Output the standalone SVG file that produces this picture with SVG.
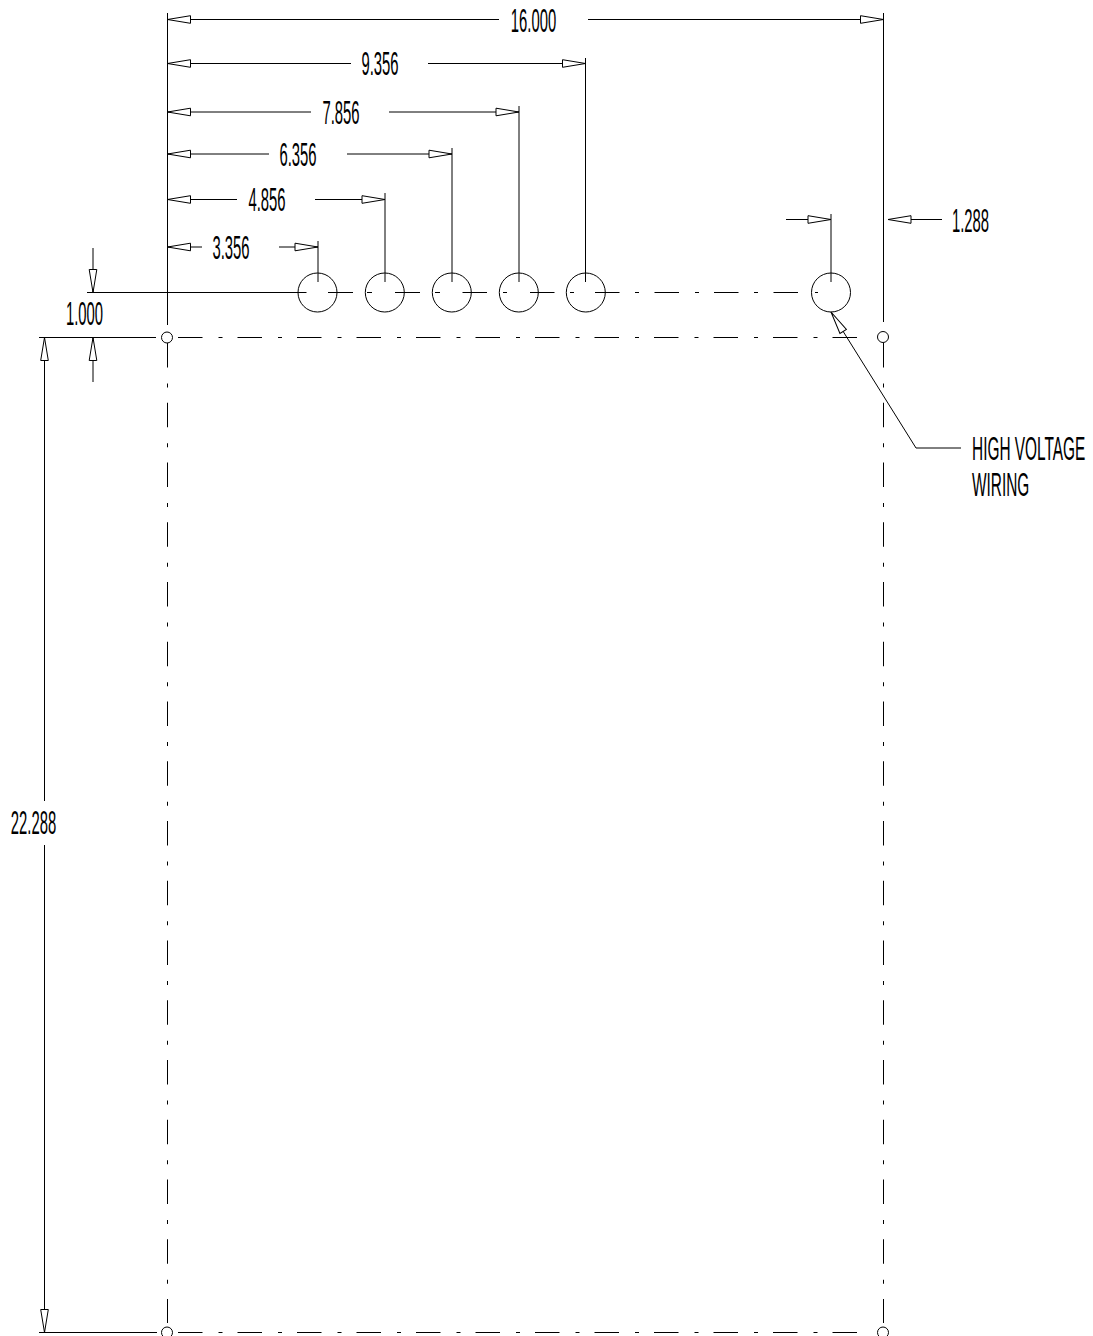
<svg xmlns="http://www.w3.org/2000/svg" width="1093" height="1336" viewBox="0 0 1093 1336">
<style>
.l{fill:none;stroke:#000;stroke-width:1}
.dh{fill:none;stroke:#000;stroke-width:1;stroke-dasharray:24.5 16 4 15}
.dv{fill:none;stroke:#000;stroke-width:1;stroke-dasharray:24.5 16 4 15.25}
.c{fill:#fff;stroke:#000;stroke-width:1}
.t{font-family:"Liberation Sans",Arial,sans-serif;font-size:33px;fill:#000;text-anchor:middle}
.s{font-family:"Liberation Sans",Arial,sans-serif;font-size:33px;fill:#000}
</style>
<defs>
<marker id="a" markerUnits="userSpaceOnUse" markerWidth="26" markerHeight="10" refX="24" refY="5" orient="auto-start-reverse" overflow="visible">
<path d="M1 1.2L24 5L1 8.8Z" fill="#fff" stroke="#000" stroke-width="1"/>
</marker>
</defs>
<rect width="1093" height="1336" fill="#fff"/>
<g id="centerlines">
<path class="dh" d="M178 337.5H858"/>
<path class="dh" d="M178 1332.5H858"/>
<path class="dv" d="M167.5 343V1323"/>
<path class="dv" d="M883.5 343V1323"/>
<path class="l" d="M328 292.5H353M395 292.5H420M462.5 292.5H487M530 292.5H554.5M595 292.5H619.5M635 292.5H639M654.5 292.5H679M695 292.5H699M714 292.5H738.5M754 292.5H758M773.5 292.5H798M815 292.5H818"/>
<path class="l" d="M367 292.5H372M435 292.5H440M503 292.5H507M570 292.5H574"/>
</g>
<g id="extensions">
<path class="l" d="M167.5 13V325M883.5 13V322"/>
<path class="l" d="M87 292.5H306.500M39 337.5H156M39 1332.5H157"/>
<path class="l" d="M318 241V282M385 193V282M452 148V282M519 106V282M585.5 58V282M831 214V282"/>
</g>
<g id="holes">
<circle class="l" cx="317.5" cy="292.5" r="19.5"/>
<circle class="l" cx="384.8" cy="292.5" r="19.5"/>
<circle class="l" cx="451.8" cy="292.5" r="19.5"/>
<circle class="l" cx="518.8" cy="292.5" r="19.5"/>
<circle class="l" cx="585.8" cy="292.5" r="19.5"/>
<circle class="l" cx="831" cy="292.5" r="19.5"/>
</g>
<g id="points">
<circle class="c" cx="167" cy="337.5" r="5.5"/>
<circle class="c" cx="883" cy="337" r="5.5"/>
<circle class="c" cx="167" cy="1332.5" r="5.5"/>
<circle class="c" cx="883" cy="1332.5" r="5.5"/>
</g>
<g id="connectors">
<path class="l" d="M499 19.5H167.5" marker-end="url(#a)"/>
<path class="l" d="M588 19.5H883.5" marker-end="url(#a)"/>
<path class="l" d="M351 63.5H167.5" marker-end="url(#a)"/>
<path class="l" d="M428 63.5H585.5" marker-end="url(#a)"/>
<path class="l" d="M311 112H167.5" marker-end="url(#a)"/>
<path class="l" d="M389 112H519" marker-end="url(#a)"/>
<path class="l" d="M269 154H167.5" marker-end="url(#a)"/>
<path class="l" d="M347 154H452" marker-end="url(#a)"/>
<path class="l" d="M237 199.5H167.5" marker-end="url(#a)"/>
<path class="l" d="M315 199.5H385" marker-end="url(#a)"/>
<path class="l" d="M202 247H167.5" marker-end="url(#a)"/>
<path class="l" d="M279 247H318" marker-end="url(#a)"/>
<path class="l" d="M786 219.5H831" marker-end="url(#a)"/>
<path class="l" d="M942 219.5H888" marker-end="url(#a)"/>
<path class="l" d="M93 248V292.5" marker-end="url(#a)"/>
<path class="l" d="M93 382V337.5" marker-end="url(#a)"/>
<path class="l" d="M44.5 801V337.5" marker-end="url(#a)"/>
<path class="l" d="M44.5 845V1332.5" marker-end="url(#a)"/>
<path class="l" d="M961 448H916L831 312" marker-end="url(#a)"/>
</g>
<g id="labels">
<text class="t" transform="translate(533.5 31.7) scale(.45 1)">16.000</text>
<text class="t" transform="translate(380 75.2) scale(.45 1)">9.356</text>
<text class="t" transform="translate(341 123.5) scale(.45 1)">7.856</text>
<text class="t" transform="translate(298 165.5) scale(.45 1)">6.356</text>
<text class="t" transform="translate(267 211) scale(.45 1)">4.856</text>
<text class="t" transform="translate(231 258.5) scale(.45 1)">3.356</text>
<text class="t" transform="translate(970.5 231.7) scale(.45 1)">1.288</text>
<text class="t" transform="translate(84.5 325) scale(.45 1)">1.000</text>
<text class="t" transform="translate(33.5 834) scale(.45 1)">22.288</text>
<text class="s" transform="translate(972 460) scale(.467 1)">HIGH VOLTAGE</text>
<text class="s" transform="translate(972 496) scale(.467 1)">WIRING</text>
</g>
</svg>
